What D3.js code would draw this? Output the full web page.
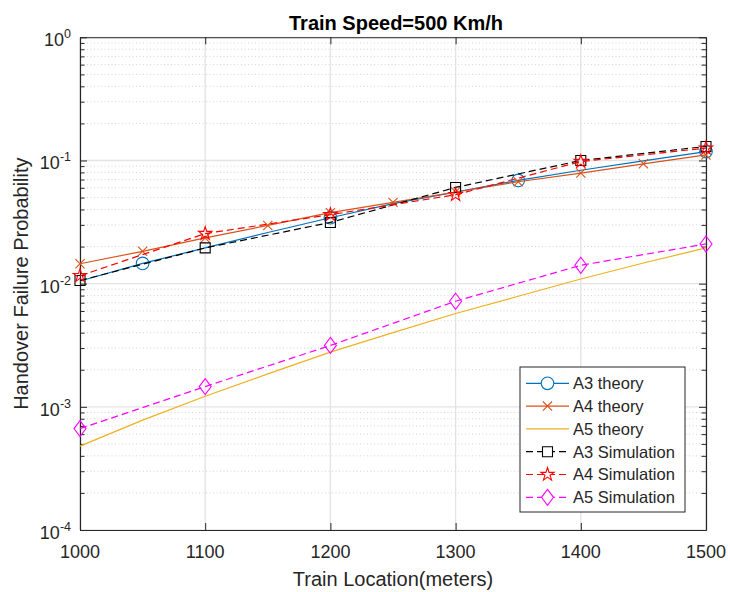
<!DOCTYPE html>
<html>
<head>
<meta charset="utf-8">
<script src="https://cdn.jsdelivr.net/npm/d3@7"></script>
<style>
  html, body { margin: 0; padding: 0; background: #ffffff; }
  svg { display: block; }
  text { font-family: "Liberation Sans", Arial, Helvetica, sans-serif; fill: #262626; }
</style>
</head>
<body>
<div id="chart"></div>
<script>
// ---------------- data ----------------
const xTheory = [1000, 1050, 1100, 1150, 1200, 1250, 1300, 1350, 1400, 1450, 1500];
const a3Theory = [0.0105, 0.0146, 0.0195, 0.0260, 0.0343, 0.0446, 0.0553, 0.0689, 0.0833, 0.0994, 0.118];
const a4Theory = [0.0145, 0.0183, 0.0235, 0.0297, 0.0377, 0.0457, 0.0555, 0.0672, 0.0790, 0.0940, 0.111];
const a5Theory = [0.00048, 0.00078, 0.00122, 0.00185, 0.00278, 0.0040, 0.00572, 0.0079, 0.0109, 0.0147, 0.0195];
const a3TheoryMarkerX = [1050, 1200, 1350, 1500];

const xSim = [1000, 1100, 1200, 1300, 1400, 1500];
const a3Sim = [0.0106, 0.0195, 0.0314, 0.0604, 0.100, 0.130];
const a4Sim = [0.0116, 0.0255, 0.0363, 0.0527, 0.098, 0.126];
const a5Sim = [0.000666, 0.00146, 0.00315, 0.0072, 0.0141, 0.0210];

const xTicks = [1000, 1100, 1200, 1300, 1400, 1500];
const yDecades = [0, -1, -2, -3, -4];
const seriesNames = ["A3 theory", "A4 theory", "A5 theory", "A3 Simulation", "A4 Simulation", "A5 Simulation"];

const titleText = "Train Speed=500 Km/h";
const xLabelText = "Train Location(meters)";
const yLabelText = "Handover Failure Probability";

// ---------------- layout ----------------
const W = 730, H = 592;
const pLeft = 80, pRight = 706, pTop = 37.3, pBottom = 530;

const svg = d3.select("#chart").append("svg").attr("width", W).attr("height", H);
svg.append("rect").attr("width", W).attr("height", H).attr("fill", "#ffffff");

const x = d3.scaleLinear().domain([1000, 1500]).range([pLeft, pRight]);
const y = d3.scaleLog().domain([1e-4, 1]).range([pBottom, pTop]);

const axisColor = "#262626";

// grid
const grid = svg.append("g");
const minorVals = [];
for (let e = -4; e < 0; e++) for (let m = 2; m <= 9; m++) minorVals.push(m * Math.pow(10, e));
grid.selectAll("line.minor").data(minorVals).enter().append("line")
  .attr("x1", pLeft).attr("x2", pRight)
  .attr("y1", d => y(d)).attr("y2", d => y(d))
  .attr("stroke", "#d4d4d4").attr("stroke-width", 1).attr("stroke-dasharray", "1,2.5");
grid.selectAll("line.majy").data(yDecades).enter().append("line")
  .attr("x1", pLeft).attr("x2", pRight)
  .attr("y1", d => y(Math.pow(10, d))).attr("y2", d => y(Math.pow(10, d)))
  .attr("stroke", "#e3e3e3").attr("stroke-width", 1.3);
grid.selectAll("line.majx").data(xTicks).enter().append("line")
  .attr("x1", d => x(d)).attr("x2", d => x(d))
  .attr("y1", pTop).attr("y2", pBottom)
  .attr("stroke", "#e3e3e3").attr("stroke-width", 1.3);

// ---------------- axes via d3 ----------------
const yMajor = yDecades.map(e => Math.pow(10, e));
const xAxisB = d3.axisBottom(x).tickValues(xTicks).tickSizeInner(-7).tickSizeOuter(0).tickFormat("");
const xAxisT = d3.axisTop(x).tickValues(xTicks).tickSizeInner(-7).tickSizeOuter(0).tickFormat("");
const yAxisL = d3.axisLeft(y).tickValues(yMajor).tickSizeInner(-7).tickSizeOuter(0).tickFormat("");
const yAxisR = d3.axisRight(y).tickValues(yMajor).tickSizeInner(-7).tickSizeOuter(0).tickFormat("");
const yAxisLm = d3.axisLeft(y).tickValues(minorVals).tickSizeInner(-4.5).tickSizeOuter(0).tickFormat("");
const yAxisRm = d3.axisRight(y).tickValues(minorVals).tickSizeInner(-4.5).tickSizeOuter(0).tickFormat("");

function styleAxis(g) {
  g.selectAll("path").attr("stroke", axisColor).attr("stroke-width", 1.1);
  g.selectAll("line").attr("stroke", axisColor).attr("stroke-width", 1);
}
svg.append("g").attr("transform", `translate(0,${pBottom})`).call(xAxisB).call(styleAxis);
svg.append("g").attr("transform", `translate(0,${pTop})`).call(xAxisT).call(styleAxis);
svg.append("g").attr("transform", `translate(${pLeft},0)`).call(yAxisL).call(styleAxis);
svg.append("g").attr("transform", `translate(${pRight},0)`).call(yAxisR).call(styleAxis);
svg.append("g").attr("transform", `translate(${pLeft},0)`).call(yAxisLm).call(styleAxis);
svg.append("g").attr("transform", `translate(${pRight},0)`).call(yAxisRm).call(styleAxis);

// x tick labels
svg.append("g").selectAll("text").data(xTicks).enter().append("text")
  .attr("x", d => x(d)).attr("y", 558)
  .attr("text-anchor", "middle").attr("font-size", 18)
  .text(d => d);

// y tick labels (10^e)
const yl = svg.append("g").selectAll("text").data(yDecades).enter().append("text")
  .attr("x", 71).attr("y", d => y(Math.pow(10, d)) + 9)
  .attr("text-anchor", "end").attr("font-size", 18);
yl.append("tspan").text("10");
yl.append("tspan").attr("dy", -8).attr("font-size", 12.5).text(d => String(d));

// axis labels and title
svg.append("text").attr("x", (pLeft + pRight) / 2).attr("y", 586)
  .attr("text-anchor", "middle").attr("font-size", 20).text(xLabelText);
svg.append("text").attr("transform", `translate(28,${(pTop + pBottom) / 2}) rotate(-90)`)
  .attr("text-anchor", "middle").attr("font-size", 20).text(yLabelText);
svg.append("text").attr("x", (pLeft + pRight) / 2 + 3).attr("y", 30)
  .attr("text-anchor", "middle").attr("font-size", 20).attr("font-weight", "bold")
  .style("fill", "#000").text(titleText);

// ---------------- marker shapes ----------------
function markerPath(type) {
  switch (type) {
    case "o": return d3.symbol().type(d3.symbolCircle).size(Math.PI * 6.3 * 6.3)();
    case "x": { const s = 4.6; return `M${-s},${-s}L${s},${s}M${-s},${s}L${s},${-s}`; }
    case "s": { const s = 5; return `M${-s},${-s}H${s}V${s}H${-s}Z`; }
    case "p": {
      const R = 7, r = R * 0.382; let p = "";
      for (let i = 0; i < 10; i++) {
        const ang = -Math.PI / 2 + i * Math.PI / 5;
        const rad = i % 2 === 0 ? R : r;
        p += (i === 0 ? "M" : "L") + (rad * Math.cos(ang)).toFixed(2) + "," + (rad * Math.sin(ang)).toFixed(2);
      }
      return p + "Z";
    }
    case "d": return "M0,-8L6,0L0,8L-6,0Z";
  }
  return "";
}

const series = [
  { name: seriesNames[0], xs: xTheory, ys: a3Theory, color: "#0072BD", dash: null, marker: "o", mx: a3TheoryMarkerX },
  { name: seriesNames[1], xs: xTheory, ys: a4Theory, color: "#D95319", dash: null, marker: "x", mx: xTheory },
  { name: seriesNames[2], xs: xTheory, ys: a5Theory, color: "#EDB120", dash: null, marker: null, mx: [] },
  { name: seriesNames[3], xs: xSim, ys: a3Sim, color: "#000000", dash: "7,4", marker: "s", mx: xSim },
  { name: seriesNames[4], xs: xSim, ys: a4Sim, color: "#FF0000", dash: "7,4", marker: "p", mx: xSim },
  { name: seriesNames[5], xs: xSim, ys: a5Sim, color: "#FF00FF", dash: "7,4", marker: "d", mx: xSim }
];

const line = d3.line().x(d => x(d[0])).y(d => y(d[1]));
const plot = svg.append("g");
series.forEach(s => {
  const pts = s.xs.map((xv, i) => [xv, s.ys[i]]);
  plot.append("path").datum(pts).attr("d", line)
    .attr("fill", "none").attr("stroke", s.color).attr("stroke-width", 1.2)
    .attr("stroke-dasharray", s.dash);
  if (s.marker) {
    const mpts = pts.filter(p => s.mx.includes(p[0]));
    plot.selectAll(null).data(mpts).enter().append("path")
      .attr("transform", p => `translate(${x(p[0])},${y(p[1])})`)
      .attr("d", markerPath(s.marker))
      .attr("fill", "none").attr("stroke", s.color).attr("stroke-width", 1.1);
  }
});

// ---------------- legend ----------------
const lg = svg.append("g");
const lgX = 520, lgY = 367, lgW = 165, lgH = 145, rowH = 22.8, firstRow = 383.3;
lg.append("rect").attr("x", lgX).attr("y", lgY).attr("width", lgW).attr("height", lgH)
  .attr("fill", "#ffffff").attr("stroke", axisColor).attr("stroke-width", 1);
series.forEach((s, i) => {
  const cy = firstRow + i * rowH;
  lg.append("line").attr("x1", 526).attr("x2", 569).attr("y1", cy).attr("y2", cy)
    .attr("stroke", s.color).attr("stroke-width", 1.2).attr("stroke-dasharray", s.dash);
  if (s.marker) {
    lg.append("path").attr("transform", `translate(547.5,${cy})`).attr("d", markerPath(s.marker))
      .attr("fill", s.marker === "x" ? "none" : "#ffffff")
      .attr("stroke", s.color).attr("stroke-width", 1.1);
  }
  lg.append("text").attr("x", 573).attr("y", cy + 5.8).attr("font-size", 16.5).text(s.name);
});
</script>
</body>
</html>
